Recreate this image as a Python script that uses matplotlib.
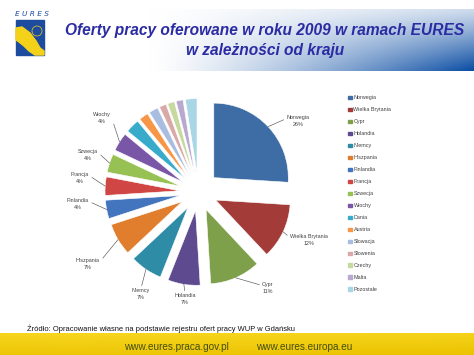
import numpy as np
import matplotlib.pyplot as plt
from matplotlib.patches import Rectangle, Polygon, Circle

# ---- data ----
countries = ["Norwegia", "Wielka Brytania", "Cypr", "Holandia", "Niemcy",
             "Hiszpania", "Finlandia", "Francja", "Szwecja", "Włochy",
             "Dania", "Austria", "Słowacja", "Słowenia", "Czechy", "Malta",
             "Pozostałe"]
shares = [26, 12, 11, 7, 7, 7, 4, 4, 4, 4, 3, 2, 2, 1.5, 1.5, 1.5, 2.5]
colors = ["#3E6DA5", "#A33B38", "#7FA04A", "#5E4A8E", "#2E8CA6", "#E07E2E",
          "#4275BE", "#CF4644", "#98C154", "#7A56A6", "#38ABCB", "#F79646",
          "#A9BDE0", "#D9A9A8", "#C6D9A0", "#B9A8D0", "#A8D6E5"]

# label placement (image pixels) for the labelled slices
label_pos = {
    "Norwegia": (298, 121), "Wielka Brytania": (309, 240), "Cypr": (268, 288),
    "Holandia": (185, 299), "Niemcy": (141, 294), "Hiszpania": (88, 264),
    "Finlandia": (78, 204), "Francja": (80, 178), "Szwecja": (88, 155),
    "Włochy": (102, 118),
}

W, H = 474, 355
fig = plt.figure(figsize=(W / 100, H / 100), dpi=100)
fig.patch.set_facecolor("white")

# background axes in image pixels
bg = fig.add_axes([0, 0, 1, 1])
bg.set_xlim(0, W)
bg.set_ylim(H, 0)
bg.axis("off")

# header gradient band
xs = np.linspace(0, 1, W)
ys = np.linspace(0, 1, 62)
fx = np.clip((xs * W - 150) / (W - 150), 0, 1) ** 1.3
fy = 0.2 + 0.8 * ys ** 1.1
t = fy[:, None] * fx[None, :]
blue = np.array([0.04, 0.30, 0.64])
img = (1 - t[..., None]) * np.ones(3) + t[..., None] * blue
bg.imshow(img, extent=(0, W, 71, 9), aspect="auto", zorder=0)

# footer yellow band
fy2 = np.linspace(0, 1, 30)
fx2 = np.linspace(0, 1, W)
top = np.array([0.97, 0.84, 0.12])
bot = np.array([0.92, 0.76, 0.00])
ramp = fy2[:, None] * 0.8 + 0.2 * np.abs(fx2[None, :] - 0.15)
yimg = (1 - ramp[..., None]) * top + ramp[..., None] * bot
bg.imshow(np.clip(yimg, 0, 1), extent=(0, W, H, 333), aspect="auto", zorder=0)

# logo
bg.add_patch(Rectangle((16, 20), 28, 35, color="#1D4C9E", zorder=2))
bg.add_patch(Polygon([(16, 28), (22, 27), (30, 33), (36, 41), (40, 48), (44, 51),
                      (44, 55), (35, 55), (29, 51), (24, 46), (19, 42), (16, 40)],
                     closed=True, color="#F4D21A", zorder=3))
bg.add_patch(Circle((37, 31), 5, fill=False, ec="#F4D21A", lw=0.5, zorder=3))
bg.text(32, 14, "E U R E S", ha="center", va="center", fontsize=5.3,
        style="italic", color="#1D4C9E", family="DejaVu Sans")

# title
title_color = "#2B2BA3"
bg.text(265, 31, "Oferty pracy oferowane w roku 2009 w ramach EURES",
        ha="center", va="center", fontsize=11.2, fontweight="bold",
        style="italic", color=title_color, family="Liberation Sans")
bg.text(265, 50, "w zależności od kraju", ha="center", va="center",
        fontsize=11.2, fontweight="bold", style="italic", color=title_color,
        family="Liberation Sans")

# source and urls
bg.text(27, 329, "Źródło: Opracowanie własne na podstawie rejestru ofert pracy WUP w Gdańsku",
        ha="left", va="center", fontsize=5.4, color="#111111", family="Liberation Sans")
bg.text(124, 347, "www.eures.praca.gov.pl", ha="left", va="center",
        fontsize=7.2, color="#434E12", family="Liberation Sans")
bg.text(256, 347, "www.eures.europa.eu", ha="left", va="center",
        fontsize=7.2, color="#434E12", family="Liberation Sans")

# legend (manual, Excel style)
for i, (name, c) in enumerate(zip(countries, colors)):
    yy = 97.5 + i * 11.97
    bg.add_patch(Rectangle((348.5, yy - 1.6), 3.2, 3.2, color=c, zorder=3))
    bg.text(353.5, yy, name, ha="left", va="center", fontsize=3.9,
            color="#404040", family="Liberation Sans")

# pie axes: 1 data unit = S pixels
S, cx, cy = 74.5, 198.5, 192.0
pax = fig.add_axes([0, 0, 1, 1])
pax.patch.set_alpha(0)

def px(x, y):
    return (x - cx) / S, (cy - y) / S

explode = [19 / S] * len(shares)
explode[0] = 21 / S
wedges, _ = pax.pie(shares, colors=colors, startangle=90, counterclock=False,
                    explode=explode, radius=1,
                    wedgeprops=dict(edgecolor="white", linewidth=0.4))
pax.set_aspect("auto")
pax.set_xlim((0 - cx) / S, (W - cx) / S)
pax.set_ylim((cy - H) / S, cy / S)
pax.axis("off")

total = sum(shares)
for w, name, v in zip(wedges, countries, shares):
    if name not in label_pos:
        continue
    ang = np.deg2rad((w.theta1 + w.theta2) / 2)
    ax_, ay_ = w.center
    tip = (ax_ + w.r * np.cos(ang), ay_ + w.r * np.sin(ang))
    lx, ly = label_pos[name]
    if name in ("Holandia", "Niemcy"):
        rel = (0.5, 1.0)
    elif lx > cx:
        rel = (0.0, 0.72)
    else:
        rel = (1.0, 0.72)
    pax.annotate(f"{name}\n{v / total * 100:.0f}%", xy=tip, xytext=px(lx, ly),
                 ha="center", va="center", fontsize=3.9, color="#404040",
                 family="Liberation Sans", linespacing=1.3,
                 arrowprops=dict(arrowstyle="-", color="#555555", lw=0.45,
                                 shrinkA=0, shrinkB=0, relpos=rel))

fig.savefig("out.png", dpi=100)
